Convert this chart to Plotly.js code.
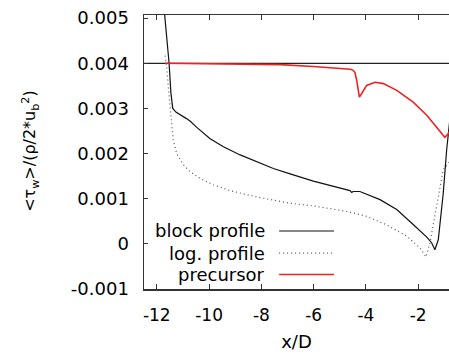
<!DOCTYPE html>
<html>
<head>
<meta charset="utf-8">
<script src="https://cdn.plot.ly/plotly-3.0.1.min.js"></script>
<style>html,body{margin:0;padding:0;background:#fff;overflow:hidden}#chart{width:449px;height:354px}</style>
</head>
<body>
<div id="chart"></div>
<script>
// block profile
const blockX = [-11.72,-11.53,-11.46,-11.39,-11.27,-11.11,-10.88,-10.73,-10.47,-9.96,-9.45,-8.81,-8.18,-7.54,-6.90,-6.01,-4.61,-4.54,-4.49,-4.23,-3.46,-2.82,-2.19,-1.67,-1.48,-1.36,-1.23,-1.04,-0.91,-0.85,-0.79];
const blockY = [0.0052,0.0040,0.00334,0.00300,0.00292,0.00287,0.00278,0.00272,0.00258,0.00233,0.00215,0.00197,0.00182,0.00167,0.00155,0.00139,0.00118,0.00114,0.00116,0.00116,0.00098,0.00076,0.00043,0.00015,0.00002,-0.00013,0.00009,0.00112,0.00208,0.00248,0.00274];
// log. profile
const logX = [-11.68,-11.62,-11.56,-11.46,-11.43,-11.37,-11.24,-10.98,-10.73,-10.34,-9.84,-9.20,-8.56,-7.92,-6.90,-6.01,-4.73,-3.97,-3.20,-2.44,-1.93,-1.70,-1.55,-1.29,-1.04,-0.85,-0.79];
const logY = [0.00417,0.00391,0.00347,0.00289,0.00274,0.00230,0.00200,0.00175,0.00160,0.00145,0.00131,0.00118,0.00109,0.00101,0.00090,0.00084,0.00072,0.00061,0.00042,0.00017,-0.00009,-0.00029,0.00002,0.00083,0.00164,0.00178,0.00183];
// precursor
const precX = [-11.68,-9.5,-7.28,-6.01,-4.73,-4.60,-4.50,-4.42,-4.35,-4.25,-4.16,-3.97,-3.65,-3.33,-2.82,-2.19,-1.67,-1.29,-0.98,-0.85,-0.79];
const precY = [0.00400,0.00399,0.00397,0.00393,0.00389,0.00387,0.00385,0.00380,0.00362,0.00325,0.00333,0.00351,0.00358,0.00355,0.00340,0.00314,0.00285,0.00259,0.00236,0.00244,0.00250];
// reference level
const refX = [-12.6, -0.7];
const refY = [0.004, 0.004];
const names = ["block profile", "log. profile", "precursor"];
const xTicks = [-12, -10, -8, -6, -4, -2];
const yTicks = [-0.001, 0, 0.001, 0.002, 0.003, 0.004, 0.005];
const yTitle = "&lt;τ<sub>w</sub>&gt;/(ρ/2*u<sub>b</sub><sup>2</sup>)";

const font = "DejaVu Sans, sans-serif";
const cBlock = "#111111", cLog = "#555555", cPrec = "#ee2222";

const traces = [
  {x: refX, y: refY, mode: "lines", line: {color: "#222", width: 1.2}, showlegend: false, hoverinfo: "skip"},
  {x: blockX, y: blockY, mode: "lines", name: names[0], line: {color: cBlock, width: 1.2}, showlegend: false},
  {x: logX, y: logY, mode: "lines", name: names[1], line: {color: cLog, width: 1.2, dash: "1px,3px"}, showlegend: false},
  {x: precX, y: precY, mode: "lines", name: names[2], line: {color: cPrec, width: 1.6}, showlegend: false}
];

const legRows = [0.2117, 0.131, 0.053];
const legColors = [cBlock, cLog, cPrec];
const legDash = ["solid", "1px,3px", "solid"];
const annotations = names.map((n, i) => ({
  xref: "paper", yref: "paper", x: 0.403, y: legRows[i], xanchor: "right", yanchor: "middle",
  text: n, showarrow: false, font: {family: font, size: 18, color: "#000"}
}));
annotations.push({
  xref: "paper", yref: "paper", x: -0.373, y: 0.505, xanchor: "center", yanchor: "middle",
  textangle: -90, text: yTitle, showarrow: false, font: {family: font, size: 16, color: "#000"}
});
const shapes = names.map((n, i) => ({
  type: "line", xref: "paper", yref: "paper", x0: 0.443, x1: 0.623, y0: legRows[i], y1: legRows[i],
  line: {color: legColors[i], width: i === 2 ? 1.6 : 1.2, dash: legDash[i]}
}));

const layout = {
  width: 449, height: 354,
  margin: {l: 144, r: 0, t: 15, b: 65},
  paper_bgcolor: "#fff", plot_bgcolor: "#fff",
  font: {family: font, size: 17, color: "#000"},
  showlegend: false,
  xaxis: {
    range: [-12.49, -0.82], tickvals: xTicks, ticktext: xTicks.map(String),
    ticks: "inside", ticklen: 5, tickwidth: 1, tickcolor: "#333",
    showline: true, linecolor: "#333", linewidth: 1.5, mirror: "ticks",
    showgrid: false, zeroline: false,
    ticklabelstandoff: 10,
    tickfont: {family: font, size: 17},
    title: {text: "x/D", font: {family: font, size: 18}, standoff: 11}
  },
  yaxis: {
    range: [-0.001, 0.00507], tickvals: yTicks, ticktext: ["-0.001", "0", "0.001", "0.002", "0.003", "0.004", "0.005"],
    ticks: "inside", ticklen: 4, tickwidth: 1, tickcolor: "#333",
    showline: true, linecolor: "#333", linewidth: 1.5, mirror: false,
    showgrid: false, zeroline: false,
    ticklabelstandoff: 10,
    tickfont: {family: font, size: 18}
  },
  annotations: annotations,
  shapes: shapes
};

Plotly.newPlot("chart", traces, layout, {displayModeBar: false, staticPlot: true});
</script>
</body>
</html>
